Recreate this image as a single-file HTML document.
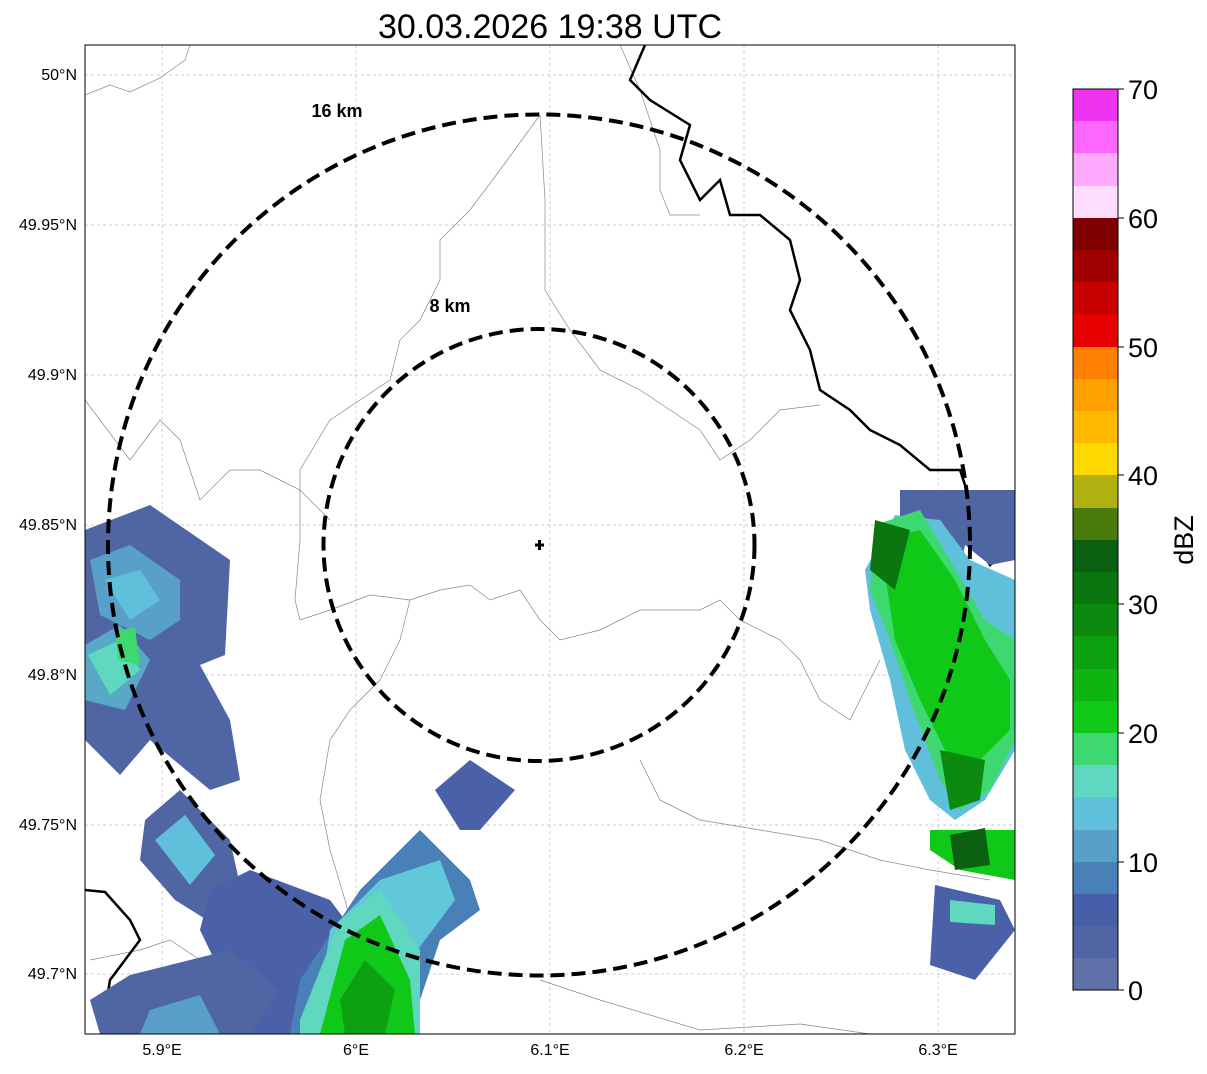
<!DOCTYPE html>
<html><head><style>
body{margin:0;background:#fff;font-family:"Liberation Sans",sans-serif;}
</style></head><body>
<svg width="1207" height="1069" xmlns="http://www.w3.org/2000/svg" font-family="Liberation Sans, sans-serif">
<rect width="1207" height="1069" fill="#fff"/>
<text x="550" y="38" font-size="34" text-anchor="middle">30.03.2026 19:38 UTC</text>
<defs><clipPath id="c"><rect x="85" y="45" width="930" height="989"/></clipPath></defs>
<g clip-path="url(#c)">
<g stroke="#bbb" stroke-width="0.7" stroke-dasharray="3,3">
<line x1="162" y1="45" x2="162" y2="1034"/><line x1="356" y1="45" x2="356" y2="1034"/><line x1="550" y1="45" x2="550" y2="1034"/><line x1="744" y1="45" x2="744" y2="1034"/><line x1="938" y1="45" x2="938" y2="1034"/>
<line x1="85" y1="75" x2="1015" y2="75"/><line x1="85" y1="225" x2="1015" y2="225"/><line x1="85" y1="375" x2="1015" y2="375"/><line x1="85" y1="525" x2="1015" y2="525"/><line x1="85" y1="675" x2="1015" y2="675"/><line x1="85" y1="825" x2="1015" y2="825"/><line x1="85" y1="974" x2="1015" y2="974"/>
</g>
<g fill="none" stroke="#888" stroke-width="0.7">
<path d="M85 95 L110 85 L130 92 L160 78 L185 60 L190 45"/>
<path d="M540 115 L500 170 L470 210 L440 240 L440 280 L420 320 L400 340 L390 380 L360 400 L330 420 L300 470 L300 540 L295 600 L300 620"/>
<path d="M540 115 L545 200 L545 290 L570 330 L600 370 L640 390 L670 410 L700 430 L720 460 L750 440 L780 410 L820 405"/>
<path d="M85 400 L100 420 L130 460 L160 420 L180 440 L190 470 L200 500 L230 470 L260 470 L300 490 L330 520"/>
<path d="M300 620 L330 610 L370 595 L410 600 L440 590 L470 585 L490 600 L520 590 L540 620 L560 640 L600 630 L640 610 L700 610 L720 600 L740 620 L780 640 L800 660 L820 700 L850 720 L880 660"/>
<path d="M410 600 L400 640 L380 680 L350 710 L330 740 L320 800 L330 850 L345 900 L360 960"/>
<path d="M640 760 L660 800 L700 820 L760 830 L820 840 L880 860 L930 870 L990 880"/>
<path d="M90 960 L140 950 L170 940 L200 960 L260 990 L300 980 L320 1000 L340 1034"/>
<path d="M540 980 L600 1000 L700 1030 L800 1024 L870 1034"/>
<path d="M620 45 L640 90 L660 150 L660 190 L670 215 L700 215"/>
</g>
<path d="M645 45 L630 80 L650 100 L690 125 L680 160 L700 200 L720 180 L730 215 L760 215 L790 240 L800 280 L790 310 L810 350 L820 390 L850 410 L870 430 L900 445 L930 470 L960 470 L970 500 L975 540 L990 565 L1010 550 L1015 530" fill="none" stroke="#000" stroke-width="2.5"/>
<path d="M85 890 L105 892 L130 920 L140 940 L110 980 L105 1010 L120 1034" fill="none" stroke="#000" stroke-width="2.5"/>
<!-- rain left -->
<polygon points="85,530 150,505 230,560 225,655 200,665 230,720 240,780 210,790 150,740 120,775 85,740" fill="#5066a4"/>
<polygon points="90,560 130,545 180,580 180,620 150,640 100,615" fill="#58a0c8"/>
<polygon points="105,580 140,570 160,600 130,620" fill="#60c0dc"/>
<polygon points="85,645 120,625 150,660 125,710 85,700" fill="#5aa8c8"/>
<polygon points="88,655 120,640 140,670 110,695" fill="#60d8c0"/>
<polygon points="115,630 135,628 140,665 118,660" fill="#3ed870"/>
<polygon points="145,820 180,790 230,840 240,885 215,925 175,900 140,860" fill="#5066a4"/>
<polygon points="155,840 185,815 215,855 190,885" fill="#60c0dc"/>
<polygon points="210,890 250,870 330,900 360,940 340,980 300,1034 250,1034 200,930" fill="#4a60a8"/>
<polygon points="90,1000 130,975 230,950 280,990 250,1034 100,1034" fill="#5066a4"/>
<polygon points="150,1010 200,995 220,1034 140,1034" fill="#58a0c8"/>
<polygon points="300,980 360,890 420,830 470,880 480,910 440,940 420,1000 380,1034 290,1034" fill="#4a80b8"/>
<polygon points="330,930 380,880 440,860 455,900 410,960 370,1000 320,1000" fill="#60c8d8"/>
<polygon points="300,1020 340,920 380,890 420,950 420,1034 300,1034" fill="#60d8c0"/>
<polygon points="320,1034 345,940 380,915 410,980 415,1034" fill="#10c818"/>
<polygon points="340,1000 365,960 395,990 385,1034 345,1034" fill="#0da010"/>
<polygon points="435,790 470,760 515,790 480,830 460,830" fill="#4a60a8"/>
<!-- rain right -->
<polygon points="900,490 1015,490 1015,560 990,565 965,545 950,620 900,600" fill="#5066a4"/>
<polygon points="865,570 895,515 940,520 970,560 1015,580 1015,750 985,800 955,820 930,800 905,750 890,680 870,610" fill="#60c0dc"/>
<polygon points="875,525 920,510 950,560 985,620 1015,640 1015,740 990,790 960,810 940,780 910,700 890,640 870,590" fill="#3ed870"/>
<polygon points="880,540 920,530 955,580 985,640 1010,680 1010,730 980,760 950,760 920,700 895,640" fill="#10c818"/>
<polygon points="875,520 910,530 895,590 870,570" fill="#0b7510"/>
<polygon points="940,750 985,760 980,800 950,810" fill="#0c8a10"/>
<polygon points="930,830 1015,830 1015,880 960,870 930,850" fill="#10c818"/>
<polygon points="950,835 985,828 990,865 955,870" fill="#0a6010"/>
<polygon points="935,885 1000,900 1015,930 975,980 930,965" fill="#4a60a8"/>
<polygon points="950,900 995,905 995,925 950,922" fill="#60d8c0"/>
</g>
<g clip-path="url(#c)">
<ellipse cx="539" cy="545" rx="215.5" ry="216" fill="none" stroke="#000" stroke-width="4" stroke-dasharray="14,7"/>
<ellipse cx="539" cy="545" rx="431" ry="430.5" fill="none" stroke="#000" stroke-width="4" stroke-dasharray="14,7"/>
<text x="337" y="117" font-size="18" font-weight="bold" text-anchor="middle">16 km</text>
<text x="450" y="312" font-size="18" font-weight="bold" text-anchor="middle">8 km</text>
<path d="M535 545 h9 M539.5 540 v10" stroke="#000" stroke-width="3"/>
</g>
<rect x="85" y="45" width="930" height="989" fill="none" stroke="#000" stroke-width="1"/>
<g font-size="16" text-anchor="end">
<text x="77" y="80">50°N</text><text x="77" y="230">49.95°N</text><text x="77" y="380">49.9°N</text><text x="77" y="530">49.85°N</text><text x="77" y="680">49.8°N</text><text x="77" y="830">49.75°N</text><text x="77" y="979">49.7°N</text>
</g>
<g font-size="16" text-anchor="middle">
<text x="162" y="1055">5.9°E</text><text x="356" y="1055">6°E</text><text x="550" y="1055">6.1°E</text><text x="744" y="1055">6.2°E</text><text x="938" y="1055">6.3°E</text>
</g>
<g>
<rect x="1073" y="89" width="45" height="33" fill="#f033f0"/>
<rect x="1073" y="121" width="45" height="33" fill="#ff66ff"/>
<rect x="1073" y="153" width="45" height="33" fill="#ffaaff"/>
<rect x="1073" y="186" width="45" height="33" fill="#ffddff"/>
<rect x="1073" y="218" width="45" height="33" fill="#800000"/>
<rect x="1073" y="250" width="45" height="33" fill="#a00000"/>
<rect x="1073" y="282" width="45" height="33" fill="#c80000"/>
<rect x="1073" y="314" width="45" height="33" fill="#e60000"/>
<rect x="1073" y="347" width="45" height="33" fill="#ff8000"/>
<rect x="1073" y="379" width="45" height="33" fill="#ffa000"/>
<rect x="1073" y="411" width="45" height="33" fill="#ffb800"/>
<rect x="1073" y="443" width="45" height="33" fill="#ffd800"/>
<rect x="1073" y="475" width="45" height="33" fill="#b0b010"/>
<rect x="1073" y="508" width="45" height="33" fill="#4a7a0a"/>
<rect x="1073" y="540" width="45" height="33" fill="#0a6010"/>
<rect x="1073" y="572" width="45" height="33" fill="#0b7510"/>
<rect x="1073" y="604" width="45" height="33" fill="#0c8a10"/>
<rect x="1073" y="636" width="45" height="33" fill="#0da010"/>
<rect x="1073" y="669" width="45" height="33" fill="#0eb510"/>
<rect x="1073" y="701" width="45" height="33" fill="#10c818"/>
<rect x="1073" y="733" width="45" height="33" fill="#3ed870"/>
<rect x="1073" y="765" width="45" height="33" fill="#60d8c0"/>
<rect x="1073" y="797" width="45" height="33" fill="#60c0dc"/>
<rect x="1073" y="830" width="45" height="33" fill="#58a0c8"/>
<rect x="1073" y="862" width="45" height="33" fill="#4a80b8"/>
<rect x="1073" y="894" width="45" height="33" fill="#4560a8"/>
<rect x="1073" y="926" width="45" height="33" fill="#5066a4"/>
<rect x="1073" y="958" width="45" height="32" fill="#6070a8"/>
<rect x="1073" y="89" width="45" height="901" fill="none" stroke="#000" stroke-width="1"/>
<g stroke="#000"><line x1="1118" y1="89" x2="1124" y2="89"/><line x1="1118" y1="218" x2="1124" y2="218"/><line x1="1118" y1="347" x2="1124" y2="347"/><line x1="1118" y1="475" x2="1124" y2="475"/><line x1="1118" y1="604" x2="1124" y2="604"/><line x1="1118" y1="733" x2="1124" y2="733"/><line x1="1118" y1="862" x2="1124" y2="862"/><line x1="1118" y1="990" x2="1124" y2="990"/></g>
<g font-size="27"><text x="1128" y="99">70</text><text x="1128" y="228">60</text><text x="1128" y="357">50</text><text x="1128" y="485">40</text><text x="1128" y="614">30</text><text x="1128" y="743">20</text><text x="1128" y="872">10</text><text x="1128" y="1000">0</text></g>
<text transform="translate(1193 540) rotate(-90)" font-size="27" text-anchor="middle">dBZ</text>
</g>
</svg>
</body></html>
